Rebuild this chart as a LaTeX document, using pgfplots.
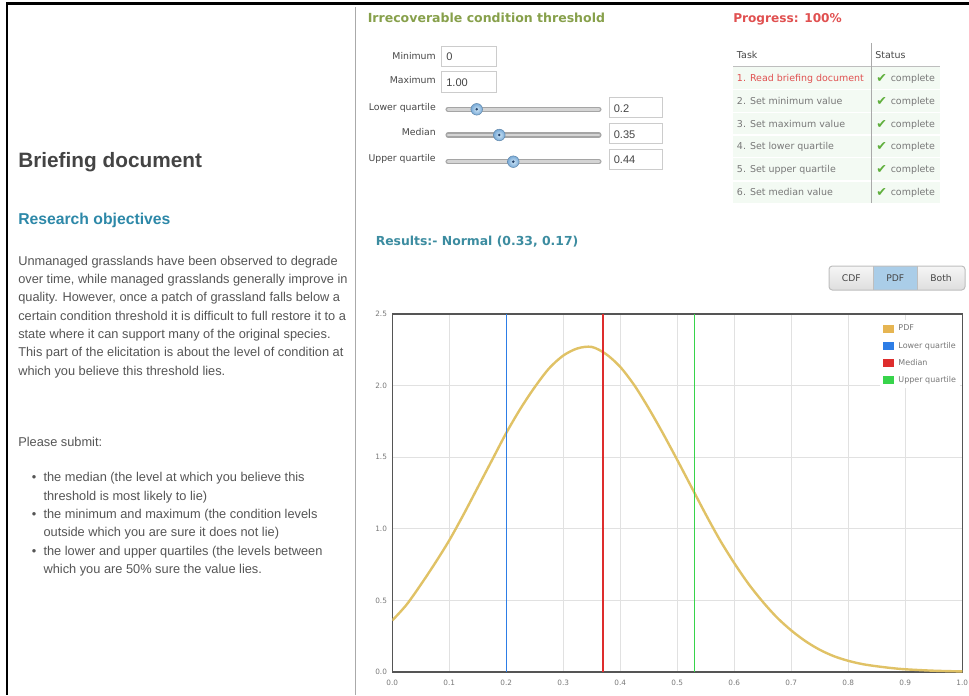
\documentclass[border=0pt]{standalone}
\usepackage{pgfplots}
\pgfplotsset{compat=1.18}
\usepackage{fontspec}
\setmainfont{Liberation Sans}
\newfontfamily\dejavu{DejaVu Sans}
\newcommand\fs[1]{\fontsize{#1}{#1}\selectfont}
\definecolor{txt}{RGB}{85,85,85}
\definecolor{headc}{RGB}{68,68,68}
\definecolor{tealc}{RGB}{45,136,168}
\definecolor{olivec}{RGB}{135,160,75}
\definecolor{redt}{RGB}{224,80,80}
\definecolor{rest}{RGB}{60,140,160}
\definecolor{boxc}{RGB}{204,204,204}
\definecolor{rowc}{RGB}{243,250,243}
\definecolor{checkc}{RGB}{95,175,60}
\definecolor{pdfc}{RGB}{224,194,102}
\definecolor{qlow}{RGB}{45,125,230}
\definecolor{qmed}{RGB}{222,45,45}
\definecolor{qup}{RGB}{55,212,75}
\definecolor{axc}{RGB}{85,85,85}
\definecolor{gridc}{RGB}{225,225,225}
\definecolor{tickc}{RGB}{120,120,120}
\definecolor{tasktxt}{RGB}{120,120,120}
\definecolor{labc}{RGB}{70,70,70}
\definecolor{trackout}{RGB}{165,165,165}
\definecolor{trackin}{RGB}{212,212,212}
\definecolor{knobin}{RGB}{205,228,245}
\definecolor{knobout}{RGB}{120,170,215}
\definecolor{knobdot}{RGB}{35,65,105}
\definecolor{btntop}{RGB}{246,246,246}
\definecolor{btnbot}{RGB}{222,222,222}
\definecolor{btnsel}{RGB}{170,205,232}
\definecolor{btnline}{RGB}{190,190,190}
\definecolor{divc}{RGB}{170,170,170}
\begin{document}
\begin{tikzpicture}
\begin{scope}[x=0.75pt,y=-0.75pt]
\path[use as bounding box] (0,0) rectangle (969,695);
% frame
\draw[black, line width=1.9pt] (6,3.5) -- (969,3.5);
\draw[black, line width=1.5pt] (6.7,3) -- (6.7,695);
\draw[divc, line width=0.8pt] (355.8,7) -- (355.8,695);
% left briefing document
\node[anchor=base west, inner sep=0, font=\bfseries\fs{15.6}, text=headc] at (18,168) {Briefing document};
\node[anchor=base west, inner sep=0, font=\bfseries\fs{11.8}, text=tealc] at (18,224.3) {Research objectives};
\begin{scope}[every node/.style={anchor=base west, inner sep=0, font=\fs{9.6}, text=txt}]
\node at (18,265) {Unmanaged grasslands have been observed to degrade};
\node at (18,283.3) {over time, while managed grasslands generally improve in};
\node at (18,301.7) {quality. However, once a patch of grassland falls below a};
\node at (18,320) {certain condition threshold it is difficult to full restore it to a};
\node at (18,338.3) {state where it can support many of the original species.};
\node at (18,356.7) {This part of the elicitation is about the level of condition at};
\node at (18,375) {which you believe this threshold lies.};
\node at (18,446.7) {Please submit:};
\node at (31.5,481.7) {\textbullet};
\node at (31.5,518.3) {\textbullet};
\node at (31.5,555) {\textbullet};
\node at (43.3,481.7) {the median (the level at which you believe this};
\node at (43.3,500) {threshold is most likely to lie)};
\node at (43.3,518.3) {the minimum and maximum (the condition levels};
\node at (43.3,536.7) {outside which you are sure it does not lie)};
\node at (43.3,555) {the lower and upper quartiles (the levels between};
\node at (43.3,573.3) {which you are 50\% sure the value lies.};
\end{scope}
% top headings
\node[anchor=base west, inner sep=0, font=\dejavu\bfseries\fs{9.4}, text=olivec] at (367.5,22.7) {Irrecoverable condition threshold};
\node[anchor=base west, inner sep=0, font=\dejavu\bfseries\fs{9.1}, text=redt] at (733,22.7) {Progress: 100\%};
% input labels
\begin{scope}[every node/.style={anchor=base east, inner sep=0, font=\dejavu\fs{7}, text=labc}]
\node at (436,59.3) {Minimum};
\node at (436,84) {Maximum};
\node at (436,110.7) {Lower quartile};
\node at (436,136) {Median};
\node at (436,161.7) {Upper quartile};
\end{scope}
% input boxes
\draw[boxc, fill=white, line width=0.75pt] (441,46.7) rectangle (496,66.7);
\draw[boxc, fill=white, line width=0.75pt] (441,71.7) rectangle (496,92.7);
\draw[boxc, fill=white, line width=0.75pt] (609,98) rectangle (662,118);
\draw[boxc, fill=white, line width=0.75pt] (609,124) rectangle (662,144);
\draw[boxc, fill=white, line width=0.75pt] (609,149.5) rectangle (662,170);
\begin{scope}[every node/.style={anchor=base west, inner sep=0, font=\fs{8.3}, text=headc}]
\node at (446,61) {0};
\node at (446,86.5) {1.00};
\node at (613.5,112.3) {0.2};
\node at (613.5,138.3) {0.35};
\node at (613.5,164) {0.44};
\end{scope}
% sliders
\foreach \yy/\kx in {109.3/476.7, 135/499.3, 161.7/513.3}{
  \draw[trackout, line width=3.8pt, line cap=round] (448,\yy) -- (599,\yy);
  \draw[trackin, line width=2.2pt, line cap=round] (448,\yy) -- (599,\yy);
  \shade[inner color=knobin, outer color=knobout] (\kx,\yy) circle (5.8);
  \draw[knobout!80!black, line width=0.4pt] (\kx,\yy) circle (5.8);
  \fill[knobdot] (\kx,\yy) circle (1.4);
}
% table
\foreach \ya/\yb in {67.5/88.8, 90/112.2, 113.3/134.5, 135.7/157.2, 158.3/180.5, 181.7/203.3}{
  \fill[rowc] (733,\ya) rectangle (940,\yb);
}
\draw[btnline, line width=1pt] (733,66.7) -- (940,66.7);
\draw[divc, line width=0.75pt] (871.7,43) -- (871.7,203.3);
\begin{scope}[every node/.style={anchor=base west, inner sep=0, font=\dejavu\fs{7.1}}]
\node[text=labc] at (736.7,58.3) {Task};
\node[text=labc] at (875,58.3) {Status};
\node[text=redt] at (736.7,81.7) {1. Read briefing document};
\node[text=tasktxt] at (736.7,104.3) {2. Set minimum value};
\node[text=tasktxt] at (736.7,127.3) {3. Set maximum value};
\node[text=tasktxt] at (736.7,150) {4. Set lower quartile};
\node[text=tasktxt] at (736.7,172.7) {5. Set upper quartile};
\node[text=tasktxt] at (736.7,195.7) {6. Set median value};
\foreach \yy in {81.7,104.3,127.3,150,172.7,195.7}{
  \node[text=checkc, font=\dejavu\fs{9.5}] at (876,\yy+0.8) {\symbol{"2714}};
  \node[text=tasktxt] at (890.5,\yy) {complete};
}
\end{scope}
% results
\node[anchor=base west, inner sep=0, font=\dejavu\bfseries\fs{9.3}, text=rest] at (375.5,245) {Results:- Normal (0.33, 0.17)};
% buttons
\shade[top color=btntop, bottom color=btnbot, rounded corners=2.5pt] (829,266) rectangle (965,290);
\fill[btnsel] (873.6,266.4) rectangle (917,289.6);
\draw[btnline, line width=0.75pt, rounded corners=2.5pt] (829,266) rectangle (965,290);
\draw[btnline, line width=0.75pt] (873.6,266) -- (873.6,290);
\draw[btnline, line width=0.75pt] (917,266) -- (917,290);
\begin{scope}[every node/.style={anchor=center, inner sep=0, font=\dejavu\fs{6.9}, text=labc}]
\node at (851.3,278) {CDF};
\node at (895.3,278) {PDF};
\node at (941,278) {Both};
\end{scope}
\end{scope}
% chart
\begin{axis}[
  at={(294.225pt,-504pt)}, anchor=south west,
  scale only axis, width=427.5pt, height=268.5pt,
  xmin=0, xmax=1, ymin=0, ymax=2.5,
  xtick={0,0.1,0.2,0.3,0.4,0.5,0.6,0.7,0.8,0.9,1},
  ytick={0,0.5,1,1.5,2,2.5},
  grid=major, major grid style={gridc, line width=0.6pt},
  axis line style={axc, line width=1.2pt},
  tick style={draw=none},
  /pgf/number format/assume math mode=true,
  ticklabel style={font=\dejavu\fs{5.5}, text=tickc,
    /pgf/number format/fixed, /pgf/number format/fixed zerofill, /pgf/number format/precision=1},
  xticklabel style={inner sep=0pt, yshift=-5.5pt},
  yticklabel style={inner sep=0pt, xshift=-3.8pt},
  legend cell align=left,
  legend style={at={(1,1)}, anchor=north east, xshift=-1.5pt, yshift=-4.5pt,
    draw=none, fill=white, inner sep=2pt,
    font=\dejavu\fs{6}, text=tickc, row sep=4.3pt,
    nodes={inner sep=1pt, text height=5pt, text depth=1.5pt},
    /tikz/every odd column/.append style={column sep=2.5pt}},
]
\addplot[color=pdfc, line width=1.8pt, smooth,
  legend image code/.code={\fill[fill=pdfc!80!orange, draw=none] (0pt,-3pt) rectangle (8pt,3pt);}]
  coordinates {
(0.000,0.36) (0.025,0.47) (0.050,0.61) (0.075,0.76) (0.100,0.92)
(0.125,1.10) (0.150,1.29) (0.175,1.48) (0.200,1.67) (0.225,1.84)
(0.250,1.99) (0.275,2.12) (0.300,2.21) (0.325,2.26) (0.350,2.27)
(0.375,2.22) (0.400,2.13) (0.425,2.00) (0.450,1.84) (0.475,1.665)
(0.500,1.48) (0.525,1.29) (0.550,1.10) (0.575,0.92) (0.600,0.76)
(0.625,0.615) (0.650,0.49) (0.675,0.38) (0.700,0.29) (0.725,0.215)
(0.750,0.155) (0.775,0.11) (0.800,0.078) (0.825,0.055) (0.850,0.04)
(0.875,0.028) (0.900,0.019) (0.950,0.009) (1.000,0.004)
};
\addlegendentry{PDF}
\addplot[color=qlow, line width=1.2pt,
  legend image code/.code={\fill[fill=qlow, draw=none] (0pt,-3pt) rectangle (8pt,3pt);}]
  coordinates {(0.2,0) (0.2,2.5)};
\addlegendentry{Lower quartile}
\addplot[color=qmed, line width=1.2pt,
  legend image code/.code={\fill[fill=qmed, draw=none] (0pt,-3pt) rectangle (8pt,3pt);}]
  coordinates {(0.37,0) (0.37,2.5)};
\addlegendentry{Median}
\addplot[color=qup, line width=1.2pt,
  legend image code/.code={\fill[fill=qup, draw=none] (0pt,-3pt) rectangle (8pt,3pt);}]
  coordinates {(0.53,0) (0.53,2.5)};
\addlegendentry{Upper quartile}
\end{axis}
\end{tikzpicture}
\end{document}
